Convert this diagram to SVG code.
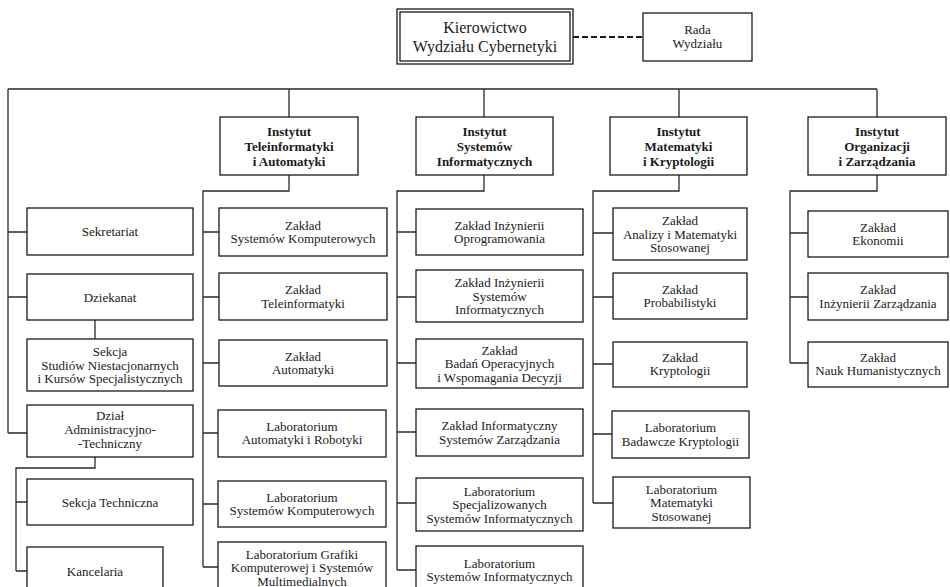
<svg xmlns="http://www.w3.org/2000/svg" width="950" height="587" viewBox="0 0 950 587">
<style>
.bg{fill:#ffffff}
.box{fill:#ffffff;stroke:#1a1a1a;stroke-width:1.3}
.ln{fill:none;stroke:#2a2a2a;stroke-width:1.3}
.dash{fill:none;stroke:#1a1a1a;stroke-width:2;stroke-dasharray:6,3}
text{font-size:13px;fill:#1a1a1a;text-anchor:middle}
.b{font-weight:bold}
.big{font-size:16px}
</style>
<rect class="bg" x="0" y="0" width="950" height="587"/>
<g id="connectors">
<path class="dash" d="M573 37 H643"/>
<path class="ln" d="M8 89 H877 M8 89 V433 M289 89 V117 M484 89 V117 M679 89 V117 M877 89 V117"/>
<path class="ln" d="M8 232 H27 M8 297 H27 M8 433 H27 M95 320 V339"/>
<path class="ln" d="M95 457 V468 H16 V571 M16 502 H27 M16 571 H27"/>
<path class="ln" d="M289 175 V191 H203 V567 M203 232 H219 M203 297 H219 M203 363 H219 M203 433 H219 M203 504 H219 M203 567 H219"/>
<path class="ln" d="M484 175 V191 H397 V570 M397 232 H416 M397 297 H416 M397 363 H416 M397 432 H416 M397 503 H416 M397 570 H416"/>
<path class="ln" d="M679 175 V191 H593 V503 M593 233 H613 M593 297 H613 M593 364 H613 M593 434 H612 M593 503 H613"/>
<path class="ln" d="M877 175 V191 H790 V363 M790 233 H808 M790 297 H808 M790 363 H808"/>
</g>
<g font-family="'Liberation Serif', 'DejaVu Serif', 'Times New Roman', Times, serif">
<g id="kierownictwo">
<rect class="box" x="397" y="9" width="176" height="55"/>
<rect class="box" x="400" y="12" width="170" height="49"/>
<text class="big" x="485" y="33">Kierowictwo</text>
<text class="big" x="485" y="52">Wydziału Cybernetyki</text>
</g>
<g id="rada">
<rect class="box" x="643" y="13" width="109" height="48"/>
<text x="697.5" y="34">Rada</text>
<text x="697.5" y="48">Wydziału</text>
</g>
<g id="inst-tel">
<rect class="box" x="220" y="117" width="138" height="58"/>
<text class="b" x="289" y="135.5">Instytut</text>
<text class="b" x="289" y="150.5">Teleinformatyki</text>
<text class="b" x="289" y="165.5">i Automatyki</text>
</g>
<g id="inst-sys">
<rect class="box" x="416" y="117" width="137" height="58"/>
<text class="b" x="484.5" y="135.5">Instytut</text>
<text class="b" x="484.5" y="150.5">Systemów</text>
<text class="b" x="484.5" y="165.5">Informatycznych</text>
</g>
<g id="inst-mat">
<rect class="box" x="610" y="117" width="137" height="58"/>
<text class="b" x="678.5" y="135.5">Instytut</text>
<text class="b" x="678.5" y="150.5">Matematyki</text>
<text class="b" x="678.5" y="165.5">i Kryptologii</text>
</g>
<g id="inst-org">
<rect class="box" x="808" y="117" width="138" height="58"/>
<text class="b" x="877" y="135.5">Instytut</text>
<text class="b" x="877" y="150.5">Organizacji</text>
<text class="b" x="877" y="165.5">i Zarządzania</text>
</g>
<g id="sekretariat">
<rect class="box" x="27" y="208" width="166" height="47"/>
<text x="110" y="236">Sekretariat</text>
</g>
<g id="dziekanat">
<rect class="box" x="27" y="274" width="166" height="46"/>
<text x="110" y="301.5">Dziekanat</text>
</g>
<g id="sekcja-studiow">
<rect class="box" x="27" y="339" width="166" height="52"/>
<text x="110" y="356">Sekcja</text>
<text x="110" y="369.5">Studiów Niestacjonarnych</text>
<text x="110" y="383">i Kursów Specjalistycznych</text>
</g>
<g id="dzial-admin">
<rect class="box" x="27" y="405" width="166" height="52"/>
<text x="110" y="420">Dział</text>
<text x="110" y="434">Administracyjno-</text>
<text x="110" y="448">-Techniczny</text>
</g>
<g id="sekcja-techniczna">
<rect class="box" x="27" y="479" width="166" height="46"/>
<text x="110" y="506.5">Sekcja Techniczna</text>
</g>
<g id="kancelaria">
<rect class="box" x="27" y="547" width="136" height="50"/>
<text x="95" y="576">Kancelaria</text>
</g>
<g id="z-sys-komp">
<rect class="box" x="219" y="208" width="168" height="48"/>
<text x="303" y="229.5">Zakład</text>
<text x="303" y="243">Systemów Komputerowych</text>
</g>
<g id="z-teleinf">
<rect class="box" x="219" y="273" width="168" height="47"/>
<text x="303" y="294">Zakład</text>
<text x="303" y="307.5">Teleinformatyki</text>
</g>
<g id="z-autom">
<rect class="box" x="219" y="340" width="168" height="46"/>
<text x="303" y="360.5">Zakład</text>
<text x="303" y="374">Automatyki</text>
</g>
<g id="l-autom-rob">
<rect class="box" x="218" y="410" width="168" height="47"/>
<text x="302" y="430.5">Laboratorium</text>
<text x="302" y="444">Automatyki i Robotyki</text>
</g>
<g id="l-sys-komp">
<rect class="box" x="218" y="481" width="168" height="46"/>
<text x="302" y="501.5">Laboratorium</text>
<text x="302" y="515">Systemów Komputerowych</text>
</g>
<g id="l-grafiki">
<rect class="box" x="218" y="542" width="168" height="52"/>
<text x="302" y="558.5">Laboratorium Grafiki</text>
<text x="302" y="572">Komputerowej i Systemów</text>
<text x="302" y="585.5">Multimedialnych</text>
</g>
<g id="z-inz-opr">
<rect class="box" x="416" y="209" width="167" height="46"/>
<text x="499.5" y="229.5">Zakład Inżynierii</text>
<text x="499.5" y="243">Oprogramowania</text>
</g>
<g id="z-inz-sys">
<rect class="box" x="416" y="270" width="167" height="52"/>
<text x="499.5" y="287">Zakład Inżynierii</text>
<text x="499.5" y="300.5">Systemów</text>
<text x="499.5" y="314">Informatycznych</text>
</g>
<g id="z-badan">
<rect class="box" x="416" y="339" width="167" height="49"/>
<text x="499.5" y="354.5">Zakład</text>
<text x="499.5" y="368">Badań Operacyjnych</text>
<text x="499.5" y="381.5">i Wspomagania Decyzji</text>
</g>
<g id="z-inf-zarz">
<rect class="box" x="416" y="409" width="167" height="47"/>
<text x="499.5" y="430">Zakład Informatyczny</text>
<text x="499.5" y="443.5">Systemów Zarządzania</text>
</g>
<g id="l-spec">
<rect class="box" x="416" y="478" width="167" height="53"/>
<text x="499.5" y="495.5">Laboratorium</text>
<text x="499.5" y="509">Specjalizowanych</text>
<text x="499.5" y="522.5">Systemów Informatycznych</text>
</g>
<g id="l-sys-inf">
<rect class="box" x="416" y="546" width="167" height="48"/>
<text x="499.5" y="567.5">Laboratorium</text>
<text x="499.5" y="581">Systemów Informatycznych</text>
</g>
<g id="z-analizy">
<rect class="box" x="613" y="208" width="134" height="52"/>
<text x="680" y="225">Zakład</text>
<text x="680" y="238.5">Analizy i Matematyki</text>
<text x="680" y="252">Stosowanej</text>
</g>
<g id="z-prob">
<rect class="box" x="613" y="273" width="134" height="46"/>
<text x="680" y="293.5">Zakład</text>
<text x="680" y="307">Probabilistyki</text>
</g>
<g id="z-krypt">
<rect class="box" x="613" y="342" width="134" height="45"/>
<text x="680" y="361.5">Zakład</text>
<text x="680" y="375">Kryptologii</text>
</g>
<g id="l-badawcze">
<rect class="box" x="612" y="411" width="137" height="47"/>
<text x="680.5" y="432">Laboratorium</text>
<text x="680.5" y="445.5">Badawcze Kryptologii</text>
</g>
<g id="l-mat-stos">
<rect class="box" x="613" y="477" width="137" height="51"/>
<text x="681.5" y="493.5">Laboratorium</text>
<text x="681.5" y="507">Matematyki</text>
<text x="681.5" y="520.5">Stosowanej</text>
</g>
<g id="z-ekonomii">
<rect class="box" x="808" y="211" width="140" height="46"/>
<text x="878" y="231.5">Zakład</text>
<text x="878" y="245">Ekonomii</text>
</g>
<g id="z-inz-zarz">
<rect class="box" x="808" y="273" width="140" height="47"/>
<text x="878" y="294">Zakład</text>
<text x="878" y="307.5">Inżynierii Zarządzania</text>
</g>
<g id="z-nauk-hum">
<rect class="box" x="808" y="342" width="140" height="45"/>
<text x="878" y="361.5">Zakład</text>
<text x="878" y="375">Nauk Humanistycznych</text>
</g>
</g>
</svg>
